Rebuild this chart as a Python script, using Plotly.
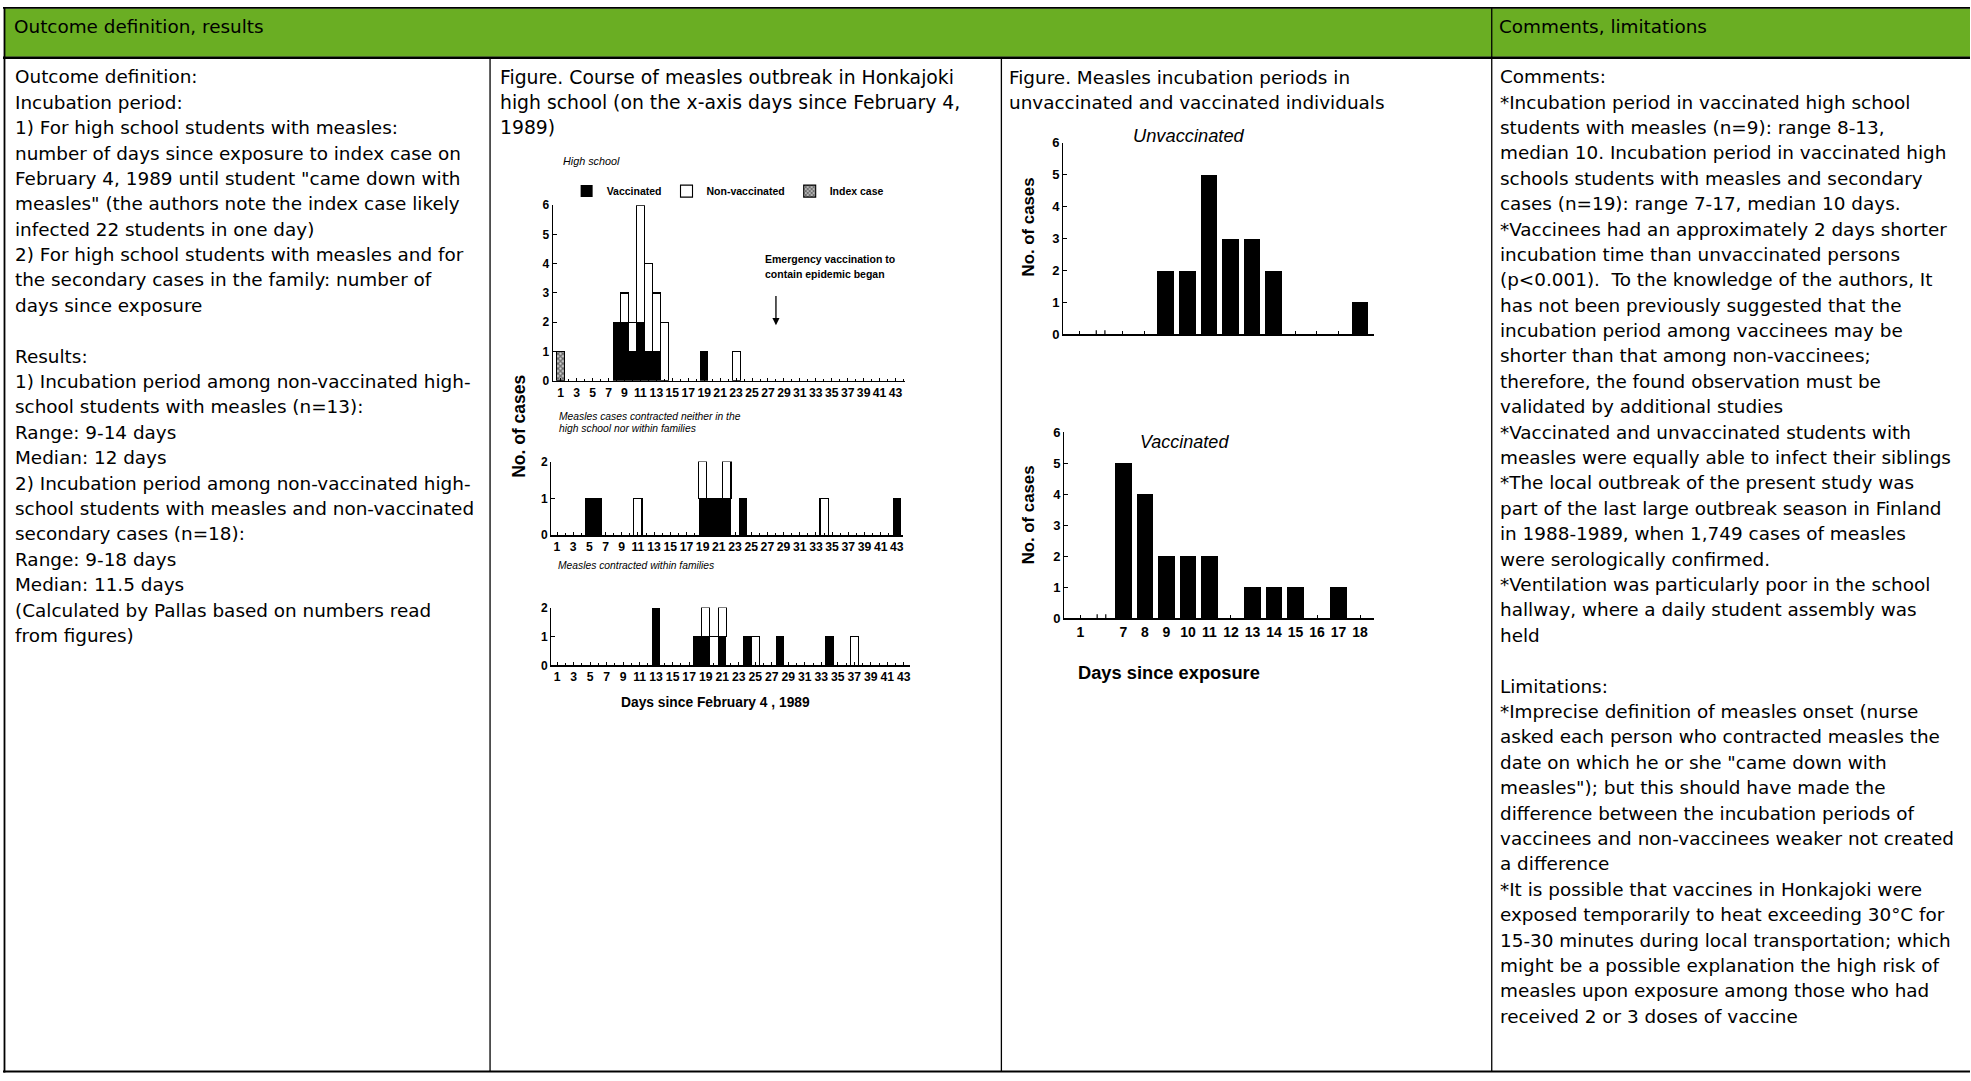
import plotly.graph_objects as go

W, H = 1971, 1081

# ---------------- data ----------------
# Course of outbreak: days since February 4, 1989
hs_vacc_days = [8, 9, 10, 11, 12, 13, 19]
hs_vacc_cases = [2, 2, 1, 2, 1, 1, 1]
hs_nonvacc_days = [9, 10, 11, 12, 13, 14, 23]
hs_nonvacc_cases = [1, 1, 4, 3, 2, 2, 1]
hs_index_days = [1]
hs_index_cases = [1]

other_vacc_days = [5, 6, 19, 20, 21, 22, 24, 43]
other_vacc_cases = [1, 1, 1, 1, 1, 1, 1, 1]
other_nonvacc_days = [11, 19, 22, 34]
other_nonvacc_cases = [1, 1, 1, 1]

fam_vacc_days = [13, 18, 19, 21, 24, 28, 34]
fam_vacc_cases = [2, 1, 1, 1, 1, 1, 1]
fam_nonvacc_days = [19, 20, 21, 25, 37]
fam_nonvacc_cases = [1, 1, 1, 1, 1]

outbreak_tick_days = [1, 3, 5, 7, 9, 11, 13, 15, 17, 19, 21, 23, 25, 27, 29, 31,
                      33, 35, 37, 39, 41, 43]
emergency_vaccination_day = 28

# Incubation periods: days since exposure (axis broken between 1 and 7)
incub_tick_days = [1, 7, 8, 9, 10, 11, 12, 13, 14, 15, 16, 17, 18]
unvacc_days = [9, 10, 11, 12, 13, 14, 18]
unvacc_cases = [2, 2, 5, 3, 3, 2, 1]
vacc_days = [7, 8, 9, 10, 11, 13, 14, 15, 17]
vacc_cases = [5, 4, 2, 2, 2, 1, 1, 1, 1]

header_left = "Outcome definition, results"
header_right = "Comments, limitations"

left_lines = [
    "Outcome definition:",
    "Incubation period:",
    "1) For high school students with measles:",
    "number of days since exposure to index case on",
    "February 4, 1989 until student \"came down with",
    "measles\" (the authors note the index case likely",
    "infected 22 students in one day)",
    "2) For high school students with measles and for",
    "the secondary cases in the family: number of",
    "days since exposure",
    "",
    "Results:",
    "1) Incubation period among non-vaccinated high-",
    "school students with measles (n=13):",
    "Range: 9-14 days",
    "Median: 12 days",
    "2) Incubation period among non-vaccinated high-",
    "school students with measles and non-vaccinated",
    "secondary cases (n=18):",
    "Range: 9-18 days",
    "Median: 11.5 days",
    "(Calculated by Pallas based on numbers read",
    "from figures)",
]

fig1_title = [
    "Figure. Course of measles outbreak in Honkajoki",
    "high school (on the x-axis days since February 4,",
    "1989)",
]
fig2_title = [
    "Figure. Measles incubation periods in",
    "unvaccinated and vaccinated individuals",
]

right_lines = [
    "Comments:",
    "*Incubation period in vaccinated high school",
    "students with measles (n=9): range 8-13,",
    "median 10. Incubation period in vaccinated high",
    "schools students with measles and secondary",
    "cases (n=19): range 7-17, median 10 days.",
    "*Vaccinees had an approximately 2 days shorter",
    "incubation time than unvaccinated persons",
    "(p&lt;0.001).&nbsp; To the knowledge of the authors, It",
    "has not been previously suggested that the",
    "incubation period among vaccinees may be",
    "shorter than that among non-vaccinees;",
    "therefore, the found observation must be",
    "validated by additional studies",
    "*Vaccinated and unvaccinated students with",
    "measles were equally able to infect their siblings",
    "*The local outbreak of the present study was",
    "part of the last large outbreak season in Finland",
    "in 1988-1989, when 1,749 cases of measles",
    "were serologically confirmed.",
    "*Ventilation was particularly poor in the school",
    "hallway, where a daily student assembly was",
    "held",
    "",
    "Limitations:",
    "*Imprecise definition of measles onset (nurse",
    "asked each person who contracted measles the",
    "date on which he or she \"came down with",
    "measles\"); but this should have made the",
    "difference between the incubation periods of",
    "vaccinees and non-vaccinees weaker not created",
    "a difference",
    "*It is possible that vaccines in Honkajoki were",
    "exposed temporarily to heat exceeding 30°C for",
    "15-30 minutes during local transportation; which",
    "might be a possible explanation the high risk of",
    "measles upon exposure among those who had",
    "received 2 or 3 doses of vaccine",
]

# ---------------- helpers ----------------
def fx(x):
    return x / W


def fy(y):
    return 1 - y / H


def dom_x(x0, x1):
    return [fx(x0), fx(x1)]


def dom_y(top, bottom):
    return [fy(bottom), fy(top)]


def slot(day):
    # broken axis: day 1, then a gap, then 7..18
    return 0 if day == 1 else day - 5


TEXT_FONT = "DejaVu Sans"
TEXT_SIZE = 18.4
LINE_STEP = 25.75
CHART_FONT = "Liberation Sans"
GREEN = "#6aae23"

annotations = []
shapes = []


def add_lines(lines, x, baseline0, step=LINE_STEP, size=TEXT_SIZE, family=TEXT_FONT,
              weight="normal", style="normal"):
    for i, t in enumerate(lines):
        if not t:
            continue
        b = baseline0 + i * step
        annotations.append(dict(
            text=t, x=fx(x - 1), y=fy(b - 0.346 * size), xref="paper", yref="paper",
            xanchor="left", yanchor="middle", showarrow=False,
            font=dict(family=family, size=size, color="black", weight=weight, style=style)))


def add_label(text, x, y, size, weight="bold", style="normal", angle=0, anchor="center"):
    annotations.append(dict(
        text=text, x=fx(x), y=fy(y), xref="paper", yref="paper",
        xanchor=anchor, yanchor="middle", showarrow=False, textangle=angle,
        font=dict(family=CHART_FONT, size=size, color="black", weight=weight, style=style)))


def hline(y, x0, x1, w):
    shapes.append(dict(type="line", xref="paper", yref="paper", x0=fx(x0), x1=fx(x1),
                       y0=fy(y), y1=fy(y), line=dict(color="black", width=w), layer="above"))


def vline(x, y0, y1, w):
    shapes.append(dict(type="line", xref="paper", yref="paper", x0=fx(x), x1=fx(x),
                       y0=fy(y0), y1=fy(y1), line=dict(color="black", width=w), layer="above"))


# ---------------- table frame ----------------
shapes.append(dict(type="rect", xref="paper", yref="paper", x0=fx(4), x1=1, y0=fy(50.5),
                   y1=fy(1.5), fillcolor=GREEN, line=dict(width=0), layer="below"))
hline(0.8, 3, W, 1.7)
hline(51.4, 3, W, 2.6)
hline(1079.5, 3, W, 2)
vline(4.5, 0, 1080.5, 1.8)
vline(490.3, 52, 1080, 1.3)
vline(1001.9, 52, 1080, 1.3)
vline(1492.5, 0, 1080, 1.3)

add_lines([header_left], 13, 26.2)
add_lines([header_right], 1499, 26.2)
add_lines(left_lines, 14, 77.2)
add_lines(fig1_title, 499, 77.5, size=18.8)
add_lines(fig2_title, 1009, 77.5)
add_lines(right_lines, 1500, 77.0)

# ---------------- charts ----------------
fig = go.Figure()

BLACK = dict(color="black", line=dict(width=0))
WHITE = dict(color="white", line=dict(color="black", width=1.1))
HATCH = dict(color="white", line=dict(color="black", width=1.1),
             pattern=dict(shape="x", fgcolor="black", bgcolor="#cfcfcf", size=3.5, solidity=0.6))


def bar(xs, ys, ax, marker, name=None, show=False, width=1.0):
    fig.add_trace(go.Bar(x=xs, y=ys, xaxis="x" + ax, yaxis="y" + ax, width=width,
                         marker=marker, name=name, showlegend=show, hoverinfo="skip",
                         cliponaxis=False))


# chart 1: high school
bar(hs_vacc_days, hs_vacc_cases, "", BLACK, "Vaccinated", True)
bar(hs_nonvacc_days, hs_nonvacc_cases, "", WHITE, "Non-vaccinated", True)
bar(hs_index_days, hs_index_cases, "", HATCH, "Index case", True)
# chart 2: neither school nor family
bar(other_vacc_days, other_vacc_cases, "2", BLACK)
bar(other_nonvacc_days, other_nonvacc_cases, "2", WHITE)
# chart 3: within families
bar(fam_vacc_days, fam_vacc_cases, "3", BLACK)
bar(fam_nonvacc_days, fam_nonvacc_cases, "3", WHITE)
# chart 4/5: incubation
bar([slot(d) for d in unvacc_days], unvacc_cases, "4", BLACK, width=0.77)
bar([slot(d) for d in vacc_days], vacc_cases, "5", BLACK, width=0.77)

xtick_small = dict(family=CHART_FONT, size=12.2, color="black", weight="bold")
ytick_small = dict(family=CHART_FONT, size=12, color="black", weight="bold")
xtick_big = dict(family=CHART_FONT, size=14, color="black", weight="bold")
ytick_big = dict(family=CHART_FONT, size=13, color="black", weight="bold")


def xax(domain, rng, tickvals, ticktext, anchor, font, show_labels=True, minor=True):
    d = dict(domain=domain, range=rng, anchor=anchor, showgrid=False, zeroline=False,
             showline=True, linecolor="black", linewidth=1.4, ticks="inside", ticklen=3,
             tickwidth=1, tickcolor="black", tickvals=tickvals, ticktext=ticktext,
             tickfont=font, showticklabels=show_labels, fixedrange=True, tickangle=0)
    if minor:
        d["minor"] = dict(dtick=1, ticks="inside", ticklen=2, tickcolor="black", showgrid=False)
    return d


def yax(domain, rng, tickvals, anchor, font):
    return dict(domain=domain, range=rng, anchor=anchor, showgrid=False, zeroline=False,
                showline=True, linecolor="black", linewidth=1.4, ticks="inside", ticklen=4,
                tickwidth=1, tickcolor="black", tickvals=tickvals, tickfont=font,
                fixedrange=True)


odd_text = [str(d) for d in outbreak_tick_days]
layout_axes = dict(
    xaxis=xax(dom_x(553.3, 905), [0.035, 44.13], outbreak_tick_days, odd_text, "y", xtick_small),
    yaxis=yax(dom_y(201, 379), [0, 6], [0, 1, 2, 3, 4, 5, 6], "x", ytick_small),
    xaxis2=xax(dom_x(551.7, 903.3), [0.31, 43.74], outbreak_tick_days, odd_text, "y2", xtick_small),
    yaxis2=yax(dom_y(461, 535.7), [0, 2], [0, 1, 2], "x2", ytick_small),
    xaxis3=xax(dom_x(551.7, 910), [0.32, 43.69], outbreak_tick_days, odd_text, "y3", xtick_small),
    yaxis3=yax(dom_y(609, 667.7), [0, 2], [0, 1, 2], "x3", ytick_small),
    xaxis4=xax(dom_x(1064, 1375), [-0.74, 13.66], [slot(d) for d in incub_tick_days],
               [str(d) for d in incub_tick_days], "y4", xtick_big, show_labels=False, minor=False),
    yaxis4=yax(dom_y(137.7, 332), [0, 6], [0, 1, 2, 3, 4, 5, 6], "x4", ytick_big),
    xaxis5=xax(dom_x(1065, 1375), [-0.74, 13.66], [slot(d) for d in incub_tick_days],
               [str(d) for d in incub_tick_days], "y5", xtick_big, minor=False),
    yaxis5=yax(dom_y(431, 620), [0, 6], [0, 1, 2, 3, 4, 5, 6], "x5", ytick_big),
)

# axis break marks on the incubation charts
for ax in ("4", "5"):
    for p in (0.78, 1.18):
        shapes.append(dict(type="line", xref="x" + ax, yref="y" + ax, x0=p, x1=p,
                           y0=-0.13, y1=0.13, line=dict(color="black", width=1.2)))

# arrow: emergency vaccination began
annotations.append(dict(x=emergency_vaccination_day, y=1.9, xref="x", yref="y",
                        ax=emergency_vaccination_day, ay=2.95, axref="x", ayref="y",
                        text="", showarrow=True, arrowhead=2, arrowsize=1.1,
                        arrowwidth=1.3, arrowcolor="black"))
add_lines(["Emergency vaccination to", "contain epidemic began"], 764, 259.5, step=15,
          size=10.5, family=CHART_FONT, weight="bold")

# chart captions
add_label("High school", 561, 155.7, 10.8, weight="normal", style="italic", anchor="left")
add_lines(["Measles cases contracted neither in the", "high school nor within families"],
          558, 418.5, step=12.3, size=10.3, family=CHART_FONT, style="italic")
add_lines(["Measles contracted within families"], 557.5, 569.5, size=10.3,
          family=CHART_FONT, style="italic")
add_label("No. of cases", 519, 425, 17.5, angle=-90)
add_label("Days since February 4 , 1989", 716, 705, 13.8)

add_label("Unvaccinated", 1190, 130, 18.3, weight="normal", style="italic")
add_label("Vaccinated", 1185, 441, 18, weight="normal", style="italic")
add_label("No. of cases", 1029, 223, 16.8, angle=-90)
add_label("No. of cases", 1029, 515, 16.8, angle=-90)
add_label("Days since exposure", 1169.5, 675, 18.3)

fig.update_layout(
    width=W, height=H, autosize=False,
    margin=dict(l=0, r=0, t=0, b=0, pad=0),
    paper_bgcolor="white", plot_bgcolor="rgba(0,0,0,0)",
    barmode="stack", bargap=0,
    showlegend=True,
    legend=dict(orientation="h", x=fx(728), y=fy(186.7), xanchor="center", yanchor="middle",
                font=dict(family=CHART_FONT, size=10.5, color="black", weight="bold"),
                itemwidth=30, traceorder="normal", bgcolor="rgba(0,0,0,0)",
                itemclick=False, itemdoubleclick=False),
    annotations=annotations,
    shapes=shapes,
    **layout_axes,
)

fig.write_html("out.html", config={"displayModeBar": False, "staticPlot": True},
               post_script="document.body.style.margin='0';document.body.style.overflow='hidden';")
